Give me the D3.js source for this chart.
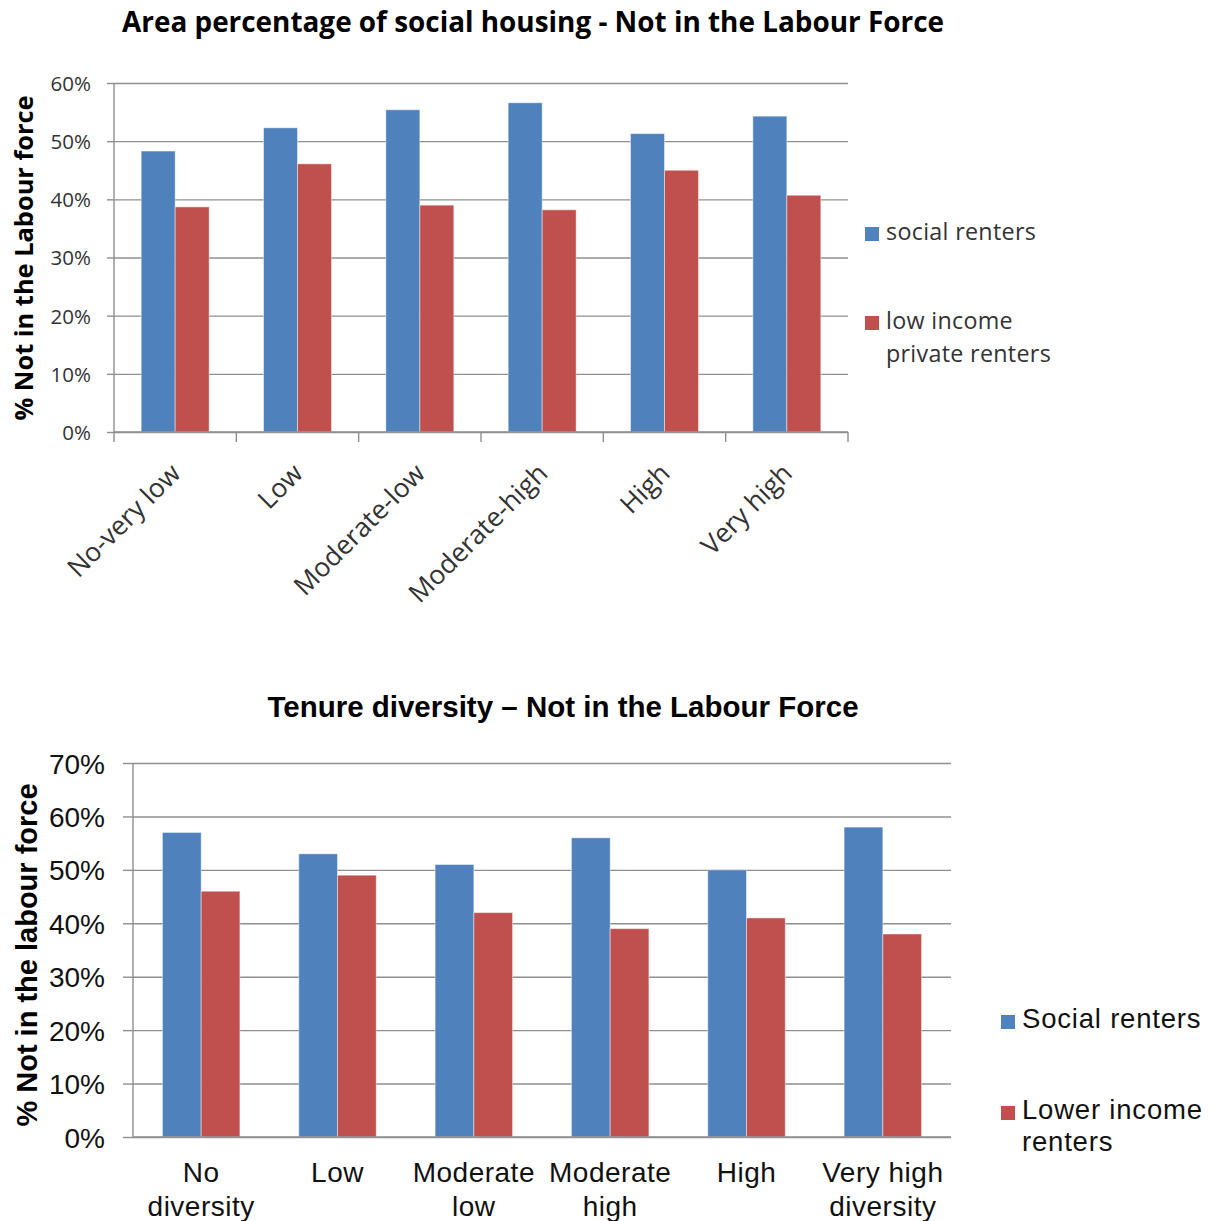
<!DOCTYPE html>
<html>
<head>
<meta charset="utf-8">
<script src="https://cdn.jsdelivr.net/npm/d3@7"></script>
<style>
  html, body { margin: 0; padding: 0; background: #fff; }
  svg { display: block; }
</style>
</head>
<body>
<svg id="chart" width="1214" height="1221"></svg>
<script>
// Area percentage of social housing
const areaCategories = ["No-very low", "Low", "Moderate-low", "Moderate-high", "High", "Very high"];
const areaSocialRenters = [48.3, 52.3, 55.4, 56.6, 51.3, 54.3];
const areaLowIncomePrivate = [38.7, 46.1, 39.0, 38.2, 45.0, 40.7];
const areaTicks = [0, 10, 20, 30, 40, 50, 60];
const areaSeries = ["social renters", "low income private renters"];

// Tenure diversity
const tenureCategories = ["No diversity", "Low", "Moderate low", "Moderate high", "High", "Very high diversity"];
const tenureCategoryLines = [["No", "diversity"], ["Low"], ["Moderate", "low"], ["Moderate", "high"], ["High"], ["Very high", "diversity"]];
const tenureSocialRenters = [57, 53, 51, 56, 50, 58];
const tenureLowerIncome = [46, 49, 42, 39, 41, 38];
const tenureTicks = [0, 10, 20, 30, 40, 50, 60, 70];
const tenureSeries = ["Social renters", "Lower income renters"];

const seriesColors = ["#4F81BD", "#C0504D"];
const svg = d3.select("#chart");

function drawBarChart(cfg) {
  const g = svg.append("g");
  const x0 = d3.scaleBand().domain(cfg.categories).range([cfg.left, cfg.right]);
  const x1 = d3.scaleBand().domain([0, 1]).range([0, x0.bandwidth()])
    .paddingInner(0).paddingOuter(cfg.groupPad);
  const y = d3.scaleLinear().domain([0, d3.max(cfg.ticks)]).range([cfg.bottom, cfg.top]);

  // horizontal gridlines
  g.append("g")
    .attr("transform", `translate(${cfg.left},0)`)
    .call(d3.axisLeft(y).tickValues(cfg.ticks).tickSize(-(cfg.right - cfg.left)).tickFormat(""))
    .call(a => a.select(".domain").remove())
    .call(a => a.selectAll("line").attr("stroke", "#8f8f8f").attr("stroke-width", 1.4));

  // bars
  const rows = cfg.categories.map((c, i) => ({ c, v: [cfg.a[i], cfg.b[i]] }));
  g.append("g").selectAll("g").data(rows).join("g")
    .attr("transform", d => `translate(${x0(d.c)},0)`)
    .selectAll("rect").data(d => d.v.map((v, k) => ({ v, k }))).join("rect")
    .attr("x", d => x1(d.k))
    .attr("width", x1.bandwidth())
    .attr("y", d => y(d.v))
    .attr("height", d => y(0) - y(d.v))
    .attr("fill", d => seriesColors[d.k])
    .attr("stroke", "rgba(255,255,255,0.45)")
    .attr("stroke-width", 1);

  // y axis with labels
  const ya = g.append("g")
    .attr("transform", `translate(${cfg.left},0)`)
    .call(d3.axisLeft(y).tickValues(cfg.ticks).tickSize(cfg.yTickLen).tickPadding(cfg.yTickPad).tickFormat(d => d + "%"));
  ya.select(".domain").attr("stroke", "#8f8f8f").attr("stroke-width", 1.4)
    .attr("d", `M0,${cfg.bottom}V${cfg.top}`);
  ya.selectAll(".tick line").attr("stroke", "#8f8f8f").attr("stroke-width", 1.4);
  ya.selectAll("text")
    .attr("font-family", cfg.font).attr("font-size", cfg.tickSize).attr("fill", cfg.tickColor)
    .attr("dy", "0.36em");

  // x axis line and ticks
  const xa = g.append("g")
    .attr("transform", `translate(0,${cfg.bottom})`);
  xa.append("line").attr("x1", cfg.left).attr("x2", cfg.right)
    .attr("stroke", "#8f8f8f").attr("stroke-width", 1.4);
  if (cfg.xTicks) {
    const edges = cfg.categories.map(c => x0(c)).concat([cfg.right]);
    xa.selectAll(".xt").data(edges).join("line")
      .attr("x1", d => d).attr("x2", d => d).attr("y1", 0).attr("y2", 10)
      .attr("stroke", "#8f8f8f").attr("stroke-width", 1.4);
  }

  // category labels
  if (cfg.rotateLabels) {
    xa.selectAll(".xl").data(cfg.categories).join("text")
      .attr("transform", d => `translate(${x0(d) + x0.bandwidth() / 2 + cfg.labelShift},${cfg.labelOffset}) rotate(-45)`)
      .attr("text-anchor", "end")
      .attr("font-family", cfg.font).attr("font-size", cfg.catSize).attr("fill", cfg.tickColor)
      .text(d => d);
  } else {
    const t = xa.selectAll(".xl").data(cfg.categories).join("text")
      .attr("text-anchor", "middle")
      .attr("font-family", cfg.font).attr("font-size", cfg.catSize).attr("fill", cfg.tickColor)
      .attr("letter-spacing", cfg.catSpacing);
    t.each(function (d, i) {
      d3.select(this).selectAll("tspan").data(cfg.catLines[i]).join("tspan")
        .attr("x", x0(d) + x0.bandwidth() / 2)
        .attr("y", (l, j) => cfg.labelOffset + j * cfg.catLineH)
        .text(l => l);
    });
  }

  // title
  g.append("text")
    .attr("x", cfg.titleX).attr("y", cfg.titleY)
    .attr("text-anchor", "middle")
    .attr("font-family", cfg.font).attr("font-weight", "bold").attr("font-size", cfg.titleSize)
    .attr("fill", "#000")
    .text(cfg.title);

  // y axis title
  g.append("text")
    .attr("transform", `translate(${cfg.yTitleX},${cfg.yTitleY}) rotate(-90)`)
    .attr("text-anchor", "middle")
    .attr("font-family", cfg.font).attr("font-weight", "bold").attr("font-size", cfg.yTitleSize)
    .attr("fill", "#000")
    .text(cfg.yTitle);

  // legend
  const lg = g.append("g");
  cfg.legend.forEach((item, k) => {
    lg.append("rect")
      .attr("x", cfg.legendX).attr("y", item.y - cfg.swatch + 1)
      .attr("width", cfg.swatch).attr("height", cfg.swatch)
      .attr("fill", seriesColors[k]);
    const txt = lg.append("text")
      .attr("font-family", cfg.font).attr("font-size", cfg.legendSize).attr("fill", cfg.legendColor)
      .attr("letter-spacing", cfg.legendSpacing);
    item.lines.forEach((l, j) => {
      txt.append("tspan").attr("x", cfg.legendX + cfg.swatch + 7)
        .attr("y", item.y + j * cfg.legendLineH).text(l);
    });
  });
}

drawBarChart({
  categories: areaCategories,
  a: areaSocialRenters, b: areaLowIncomePrivate,
  ticks: areaTicks,
  left: 114, right: 848, top: 83, bottom: 432,
  groupPad: 0.8,
  font: "'Open Sans', sans-serif",
  tickSize: 20.5, tickColor: "#333", yTickLen: 7, yTickPad: 16,
  xTicks: true, rotateLabels: true, labelOffset: 43, labelShift: 7, catSize: 26.5,
  title: "Area percentage of social housing - Not in the Labour Force",
  titleX: 533, titleY: 32, titleSize: 27.9,
  yTitle: "% Not in the Labour force", yTitleX: 33, yTitleY: 258, yTitleSize: 25.4,
  legendX: 865, swatch: 14, legendSize: 23.3, legendColor: "#333", legendLineH: 33, legendSpacing: 0.3,
  legend: [
    { y: 240, lines: ["social renters"] },
    { y: 329, lines: ["low income", "private renters"] }
  ]
});

drawBarChart({
  categories: tenureCategories, catLines: tenureCategoryLines,
  a: tenureSocialRenters, b: tenureLowerIncome,
  ticks: tenureTicks,
  left: 133, right: 951, top: 763, bottom: 1137,
  groupPad: 0.76,
  font: "'Liberation Sans', Arial, sans-serif",
  tickSize: 28, tickColor: "#111", yTickLen: 10, yTickPad: 18,
  xTicks: false, rotateLabels: false, labelOffset: 45, catSize: 28, catLineH: 34, catSpacing: 0.5,
  title: "Tenure diversity \u2013 Not in the Labour Force",
  titleX: 563, titleY: 717, titleSize: 29.5,
  yTitle: "% Not in the labour force", yTitleX: 37, yTitleY: 955, yTitleSize: 29,
  legendX: 1001, swatch: 14, legendSize: 27.5, legendColor: "#111", legendLineH: 32, legendSpacing: 0.8,
  legend: [
    { y: 1028, lines: ["Social renters"] },
    { y: 1119, lines: ["Lower income", "renters"] }
  ]
});
</script>
</body>
</html>
